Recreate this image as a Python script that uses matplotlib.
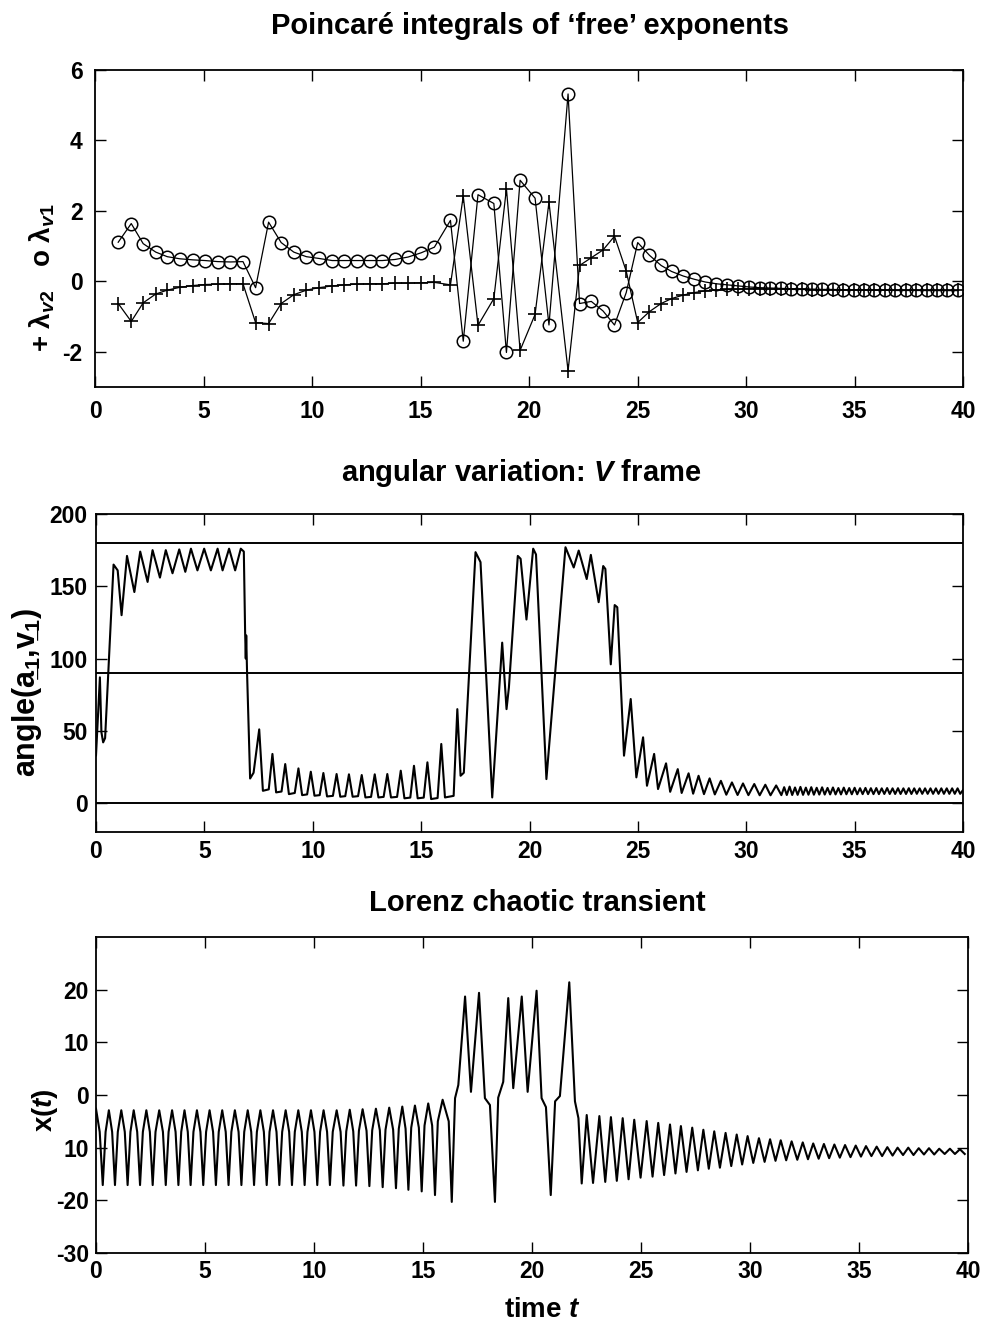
import numpy as np
import matplotlib
matplotlib.use('Agg')
import matplotlib.pyplot as plt

plt.rcParams['font.family'] = ['Liberation Sans', 'DejaVu Sans']
plt.rcParams['font.weight'] = 'bold'
plt.rcParams['axes.unicode_minus'] = False
plt.rcParams['mathtext.fontset'] = 'custom'
plt.rcParams['mathtext.rm'] = 'Liberation Sans:bold'
plt.rcParams['mathtext.it'] = 'Liberation Sans:bold:italic'
plt.rcParams['mathtext.bf'] = 'Liberation Sans:bold'

# ---------------- Panel 1: Poincare integrals ----------------
t_poinc = [1.07, 1.67, 2.22, 2.80, 3.33, 3.91, 4.50, 5.08, 5.66, 6.24,
           6.82, 7.40, 8.00, 8.58, 9.16, 9.74, 10.32, 10.93, 11.48, 12.08,
           12.66, 13.24, 13.82, 14.43, 15.03, 15.64, 16.38, 16.97, 17.65, 18.38,
           18.96, 19.59, 20.28, 20.92, 21.80, 22.33, 22.87, 23.41, 23.94, 24.48,
           25.01, 25.55, 26.09, 26.57, 27.11, 27.61, 28.13, 28.64, 29.14, 29.63,
           30.14, 30.64, 31.12, 31.60, 32.08, 32.56, 33.04, 33.52, 34.00, 34.48,
           34.96, 35.44, 35.92, 36.40, 36.88, 37.36, 37.84, 38.32, 38.80, 39.28,
           39.76]
lam_v1 = [1.11, 1.64, 1.07, 0.83, 0.70, 0.64, 0.61, 0.59, 0.56, 0.55,
          0.56, -0.18, 1.68, 1.10, 0.83, 0.70, 0.65, 0.59, 0.59, 0.59,
          0.59, 0.59, 0.62, 0.69, 0.81, 0.97, 1.73, -1.70, 2.46, 2.21,
          -2.02, 2.87, 2.36, -1.24, 5.32, -0.63, -0.57, -0.84, -1.24, -0.32,
          1.10, 0.74, 0.45, 0.28, 0.15, 0.06, -0.02, -0.07, -0.10, -0.13,
          -0.16, -0.18, -0.19, -0.20, -0.21, -0.22, -0.22, -0.23, -0.23, -0.24,
          -0.24, -0.24, -0.25, -0.25, -0.25, -0.25, -0.25, -0.26, -0.26, -0.26,
          -0.26]
lam_v2 = [-0.63, -1.14, -0.61, -0.36, -0.25, -0.17, -0.12, -0.09, -0.08, -0.07,
          -0.07, -1.17, -1.20, -0.63, -0.38, -0.25, -0.18, -0.13, -0.10, -0.08,
          -0.07, -0.07, -0.05, -0.05, -0.04, -0.03, -0.10, 2.42, -1.25, -0.49,
          2.63, -1.96, -0.94, 2.25, -2.54, 0.45, 0.67, 0.89, 1.28, 0.29,
          -1.17, -0.86, -0.63, -0.49, -0.39, -0.32, -0.27, -0.25, -0.23, -0.22,
          -0.21, -0.21, -0.22, -0.22, -0.23, -0.23, -0.24, -0.24, -0.24, -0.25,
          -0.25, -0.25, -0.25, -0.25, -0.26, -0.26, -0.26, -0.26, -0.26, -0.26,
          -0.26]

# ---------------- Panel 2: angle(a1, v1) ----------------
ang_t = [0.00, 0.18, 0.25, 0.33, 0.42, 0.81, 1.00, 1.18, 1.43, 1.77,
         2.04, 2.38, 2.61, 2.95, 3.22, 3.53, 3.84, 4.12, 4.38, 4.68,
         4.99, 5.30, 5.61, 5.84, 6.14, 6.42, 6.68, 6.82, 6.88, 6.91,
         6.93, 6.97, 7.11, 7.27, 7.53,
         7.70, 7.97, 8.14, 8.31, 8.56, 8.73, 8.90, 9.17, 9.34, 9.51,
         9.74, 9.91, 10.08, 10.32, 10.49, 10.66, 10.93, 11.10, 11.27, 11.50,
         11.67, 11.84, 12.09, 12.26, 12.43, 12.69, 12.86, 13.03, 13.27, 13.44,
         13.61, 13.89, 14.06, 14.23, 14.50, 14.67, 14.84, 15.12, 15.29, 15.46,
         15.76, 15.93, 16.10, 16.50, 16.67, 16.82, 16.97, 17.51, 17.74, 18.28,
         18.74, 18.94, 19.05, 19.46, 19.59, 19.86, 20.17, 20.30, 20.78, 21.66,
         22.04, 22.27, 22.64, 22.83, 23.19, 23.40, 23.50, 23.75, 23.93, 24.05,
         24.36, 24.49, 24.67, 24.93, 25.24, 25.42, 25.75, 25.93, 26.30, 26.49,
         26.84, 27.02, 27.34, 27.55, 27.80, 28.05, 28.31, 28.55, 28.83, 29.08,
         29.34, 29.60, 29.85, 30.10, 30.37, 30.62, 30.88, 31.12, 31.38, 31.62,
         31.75, 31.87, 32.00, 32.12, 32.25, 32.37, 32.50, 32.62, 32.75, 32.87,
         33.00, 33.12, 33.25, 33.37, 33.50, 33.62, 33.75, 33.87, 34.00, 34.12,
         34.25, 34.37, 34.50, 34.62, 34.75, 34.87, 35.00, 35.12, 35.25, 35.37,
         35.50, 35.62, 35.75, 35.87, 36.00, 36.12, 36.25, 36.37, 36.50, 36.62,
         36.75, 36.87, 37.00, 37.12, 37.25, 37.37, 37.50, 37.62, 37.75, 37.87,
         38.00, 38.12, 38.25, 38.37, 38.50, 38.62, 38.75, 38.87, 39.00, 39.12,
         39.25, 39.37, 39.50, 39.62, 39.75, 39.87, 40.00]
ang_v = [33, 87, 49, 42, 45, 165, 161, 130, 171, 146,
         174, 153, 175, 156, 175, 159, 175.5, 160, 176, 161,
         176, 161, 176, 161, 176, 161, 176, 174, 118, 100,
         116, 90, 17, 21, 51,
         8.5, 9.5, 34, 7.4, 8.0, 27, 6.2, 7.0, 24, 5.5,
         6.0, 21.7, 5.1, 5.5, 20.8, 4.6, 5.0, 20.1, 4.4, 4.8,
         19.9, 4.4, 4.8, 19.4, 3.9, 4.3, 19.9, 3.9, 4.3, 20.1,
         3.9, 4.3, 22.4, 3.3, 3.8, 25.8, 3.3, 3.8, 28.2, 2.8,
         3.5, 40.9, 3.9, 5.0, 65, 18.9, 21, 173.6, 166.7, 3.9,
         111, 65, 80, 171, 169, 127, 176, 172, 16.6, 177,
         163, 174.7, 155, 171.7, 139, 164, 162, 96, 137, 135.5,
         32.8, 49, 72, 17.8, 45.5, 12, 34, 9.7, 27.5, 7.8,
         23.5, 7.0, 20.6, 6.5, 18.9, 6.2, 17.1, 6.0, 15.4, 5.8,
         14.3, 5.6, 13.6, 5.5, 13.2, 5.4, 12.7, 5.4, 12.2, 5.5,
         11.0, 5.6, 11.4, 5.6, 10.8, 5.7, 11.2, 5.7, 10.7, 5.8,
         11.0, 5.8, 10.6, 5.9, 10.9, 5.9, 10.5, 6.0, 10.8, 6.0,
         10.4, 6.0, 10.7, 6.1, 10.4, 6.1, 10.6, 6.1, 10.3, 6.2,
         10.5, 6.2, 10.3, 6.2, 10.4, 6.2, 10.2, 6.3, 10.4, 6.3,
         10.2, 6.3, 10.3, 6.3, 10.2, 6.3, 10.3, 6.3, 10.2, 6.4,
         10.2, 6.4, 10.2, 6.4, 10.2, 6.4, 10.2, 6.4, 10.2, 6.4,
         10.2, 6.4, 10.2, 6.4, 10.2, 6.4, 9.0]
ref_angles = [0, 90, 180]

# ---------------- Panel 3: Lorenz x(t) ----------------
x_t = [0.00, 0.17, 0.31,
       0.44, 0.59, 0.74, 0.87, 1.00, 1.16, 1.32, 1.45, 1.58, 1.73, 1.89, 2.02,
       2.15, 2.31, 2.47, 2.60, 2.73, 2.90, 3.07, 3.20, 3.33, 3.49, 3.65, 3.78,
       3.91, 4.06, 4.21, 4.34, 4.47, 4.63, 4.79, 4.92, 5.05, 5.21, 5.37, 5.50,
       5.63, 5.79, 5.95, 6.08, 6.21, 6.37, 6.54, 6.67, 6.80, 6.96, 7.12, 7.25,
       7.38, 7.54, 7.70, 7.83, 7.96, 8.12, 8.28, 8.41, 8.54, 8.70, 8.86, 8.99,
       9.12, 9.28, 9.44, 9.57, 9.70, 9.86, 10.02, 10.15, 10.28, 10.44, 10.60, 10.73,
       10.86, 11.04, 11.22, 11.35, 11.48, 11.64, 11.80, 11.93, 12.06, 12.23, 12.41, 12.54,
       12.67, 12.84, 13.02, 13.15, 13.28, 13.45, 13.63, 13.76, 13.89, 14.05, 14.20, 14.33,
       14.46, 14.63, 14.81, 14.94, 15.07, 15.24, 15.42, 15.55, 15.68, 15.90, 16.18, 16.32,
       16.47, 16.62, 16.93, 17.20, 17.57, 17.84, 18.07, 18.30, 18.45, 18.68,
       18.91, 19.14, 19.53, 19.80, 20.21, 20.44, 20.64, 20.86, 21.06, 21.28,
       21.71, 21.97, 22.13, 22.28,
       22.51, 22.80, 23.09, 23.36, 23.62, 23.89, 24.16, 24.43, 24.69, 24.98,
       25.26, 25.53, 25.79, 26.06, 26.33, 26.58, 26.83, 27.09, 27.35, 27.61,
       27.86, 28.11, 28.36, 28.62, 28.88, 29.14, 29.39, 29.64, 29.89, 30.15,
       30.41, 30.67, 30.92, 31.17, 31.41, 31.66, 31.91, 32.17, 32.42, 32.66,
       32.90, 33.15, 33.39, 33.63, 33.87, 34.12, 34.36, 34.61, 34.85, 35.09,
       35.32, 35.57, 35.81, 36.06, 36.30, 36.54, 36.77, 37.02, 37.26, 37.50,
       37.74, 37.98, 38.21, 38.45, 38.68, 38.93, 39.17, 39.40, 39.63, 39.85]
x_v = [-2.6, -7.0, -17.1,
       -7.0, -2.9, -7.0, -17.1, -7.0, -2.9, -7.0, -17.1, -7.0, -2.9, -7.0, -17.1,
       -7.0, -2.9, -7.0, -17.1, -7.0, -2.9, -7.0, -17.1, -7.0, -2.9, -7.0, -17.1,
       -7.0, -2.9, -7.0, -17.1, -7.0, -2.9, -7.0, -17.1, -7.0, -2.9, -7.0, -17.1,
       -7.0, -2.9, -7.0, -17.1, -7.0, -2.9, -7.0, -17.1, -7.0, -2.9, -7.0, -17.1,
       -7.0, -2.9, -7.0, -17.1, -7.0, -2.9, -7.0, -17.1, -7.0, -2.9, -7.0, -17.1,
       -7.0, -2.9, -7.0, -17.1, -7.0, -2.9, -7.0, -17.1, -7.0, -2.9, -7.0, -17.1,
       -7.0, -2.9, -7.0, -17.2, -6.9, -2.8, -6.9, -17.2, -6.8, -2.7, -6.8, -17.3,
       -6.7, -2.6, -6.7, -17.5, -6.6, -2.4, -6.6, -17.7, -6.4, -2.2, -6.4, -18.0,
       -6.2, -2.0, -6.2, -18.3, -5.8, -1.6, -5.8, -19.0, -5.0, -0.9, -5.0, -20.3,
       -0.6, 1.9, 18.7, 0.6, 19.4, -0.6, -1.9, -20.3, -0.5, 2.5,
       18.4, 1.3, 18.7, 0.6, 19.8, -0.6, -2.3, -19.0, -1.2, -0.2,
       21.4, -1.2, -4.4, -16.8,
       -3.8, -16.7, -4.0, -16.5, -4.2, -16.3, -4.4, -16.0, -4.7, -15.7,
       -4.95, -15.5, -5.3, -15.2, -5.6, -14.9, -5.9, -14.6, -6.2, -14.3,
       -6.6, -14.0, -6.9, -13.8, -7.2, -13.5, -7.5, -13.2, -7.8, -12.9,
       -8.2, -12.7, -8.4, -12.5, -8.6, -12.4, -8.8, -12.3, -9.0, -12.2,
       -9.2, -12.1, -9.3, -12.0, -9.4, -11.9, -9.5, -11.8, -9.6, -11.7,
       -9.7, -11.6, -9.8, -11.6, -9.9, -11.5, -10.0, -11.4, -10.0, -11.4,
       -10.1, -11.3, -10.1, -11.3, -10.2, -11.2, -10.2, -11.2, -10.3, -11.2]

x_ticks = [0, 5, 10, 15, 20, 25, 30, 35, 40]
x_ticklabels = ['0', '5', '10', '15', '20', '25', '30', '35', '40']
p1_yticks = [-2, 0, 2, 4, 6]
p2_yticks = [0, 50, 100, 150, 200]
p3_yticks = [-30, -20, -10, 0, 10, 20]
p3_yticklabels = ['-30', '-20', '10', '0', '10', '20']

W, H = 984, 1331
fig = plt.figure(figsize=(W / 100, H / 100), dpi=100)


def px_axes(l, t, r, b):
    return fig.add_axes([l / W, 1 - b / H, (r - l) / W, (b - t) / H])


def style(ax, pad):
    ax.tick_params(direction='in', top=True, right=True, length=8, width=1.0,
                   labelsize=16.5, pad=pad)
    for lab in ax.get_xticklabels() + ax.get_yticklabels():
        lab.set_fontweight('bold')
    for s in ax.spines.values():
        s.set_linewidth(1.3)


ax1 = px_axes(95, 70, 963, 387)
ax1.plot(t_poinc, lam_v1, '-', color='black', lw=0.9, marker='o', ms=9,
         mfc='none', mec='black', mew=1.1)
ax1.plot(t_poinc, lam_v2, '-', color='black', lw=0.9, marker='+', ms=10.5,
         mew=1.2)
ax1.set_xlim(0, 40)
ax1.set_ylim(-3, 6)
ax1.set_xticks(x_ticks)
ax1.set_xticklabels(x_ticklabels)
ax1.set_yticks(p1_yticks)
style(ax1, 9)

ax2 = px_axes(96, 514, 963, 832)
for a in ref_angles:
    ax2.axhline(a, color='black', lw=1.4)
ax2.plot(ang_t, ang_v, color='black', lw=1.5)
ax2.set_xlim(0, 40)
ax2.set_ylim(-20, 200)
ax2.set_xticks(x_ticks)
ax2.set_xticklabels(x_ticklabels)
ax2.set_yticks(p2_yticks)
style(ax2, 6)

ax3 = px_axes(96, 937, 968, 1253)
ax3.plot(x_t, x_v, color='black', lw=1.5)
ax3.set_xlim(0, 40)
ax3.set_ylim(-30, 30)
ax3.set_xticks(x_ticks)
ax3.set_xticklabels(x_ticklabels)
ax3.set_yticks(p3_yticks)
ax3.set_yticklabels(p3_yticklabels)
style(ax3, 5)


def ftext(x, y, s, **kw):
    fig.text(x / W, 1 - y / H, s, fontweight='bold', **kw)


ftext(530, 34, 'Poincaré integrals of ‘free’ exponents', fontsize=21,
      ha='center', va='baseline')
ftext(521, 481, 'angular variation: $V$ frame', fontsize=21,
      ha='center', va='baseline')
ftext(537, 911, 'Lorenz chaotic transient', fontsize=21,
      ha='center', va='baseline')
ftext(42, 278, '+ λ$_{v2}$   o λ$_{v1}$', fontsize=20, rotation=90,
      ha='center', va='center')
ftext(27, 693, 'angle(a\u0332$_{1}$,v\u0332$_{1}$)', fontsize=22, rotation=90,
      ha='center', va='center')
ftext(45, 1110, 'x($t$)', fontsize=20, rotation=90, ha='center', va='center')
ftext(542, 1310, 'time $t$', fontsize=20, ha='center', va='center')

fig.savefig('out.png', dpi=100)
